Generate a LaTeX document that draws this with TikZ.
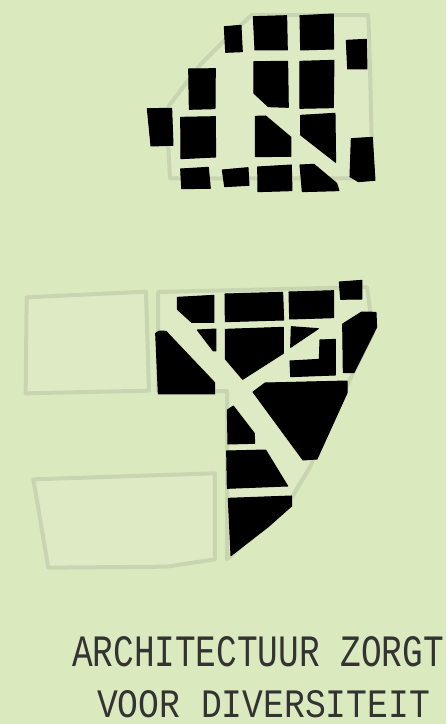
\documentclass[tikz,border=0pt]{standalone}
\usepackage{fontspec}
\setmonofont{Liberation Mono}
\definecolor{bgc}{HTML}{DBE9BF}
\definecolor{plotc}{HTML}{DEEAC4}
\definecolor{edgec}{HTML}{C8D5B0}
\definecolor{inkc}{HTML}{333333}
\tikzset{
  blk/.style={fill=black,draw=black,line width=1pt,line join=round},
  plotline/.style={fill=plotc,draw=edgec,line width=4pt,line join=round},
  hand/.style={inner sep=0pt,outer sep=0pt,anchor=west,text=inkc}
}
\begin{document}
\begin{tikzpicture}[x=1pt,y=-1pt]
\useasboundingbox (0,0) rectangle (446,724);
\clip (0,0) rectangle (446,724);
\fill[bgc] (0,0) rectangle (446,724);
% top plan
\begin{scope}[shift={(130,0)},x=0.3333pt,y=-0.3333pt]
\draw[plotline] (365,45)--(715,45)--(720,200)--(725,420)--(725,535)--(120,535)--(115,440)--(115,320)--(210,195)--(285,120)--cycle;
\draw[blk] (283,80)--(333,76)--(337,155)--(287,157)--cycle;
\draw[blk] (370,50)--(470,47)--(472,150)--(375,150)--cycle;
\draw[blk] (510,47)--(610,42)--(611,147)--(512,150)--cycle;
\draw[blk] (649,121)--(709,118)--(711,207)--(653,207)--cycle;
\draw[blk] (176,207)--(256,206)--(255,326)--(178,328)--cycle;
\draw[blk] (372,185)--(473,184)--(475,322)--(415,320)--(372,280)--cycle;
\draw[blk] (510,184)--(612,181)--(610,323)--(510,325)--cycle;
\draw[blk] (52,326)--(125,325)--(129,436)--(63,438)--cycle;
\draw[blk] (152,352)--(256,350)--(257,471)--(153,476)--cycle;
\draw[blk] (376,349)--(407,348)--(483,412)--(483,469)--(376,470)--cycle;
\draw[blk] (512,346)--(615,340)--(617,487)--(512,405)--cycle;
\draw[blk] (664,416)--(727,412)--(735,541)--(685,545)--(660,530)--cycle;
\draw[blk] (152,507)--(235,502)--(241,565)--(155,566)--cycle;
\draw[blk] (277,510)--(354,503)--(357,556)--(284,560)--cycle;
\draw[blk] (383,501)--(484,495)--(486,572)--(384,575)--cycle;
\draw[blk] (510,495)--(552,493)--(620,550)--(627,572)--(517,575)--cycle;
\end{scope}
% side plots
\begin{scope}[shift={(10,280)},x=0.3333pt,y=-0.3333pt]
\draw[plotline] (50,52)--(408,35)--(417,332)--(47,340)--cycle;
\end{scope}
\begin{scope}[shift={(20,400)},x=0.3333pt,y=-0.3333pt]
\draw[plotline] (40,238)--(585,220)--(585,478)--(440,500)--(85,503)--cycle;
\end{scope}
% lower plan outline
\draw[plotline] (158,292)--(367,287)--(373,333)--(353,373)--(310,467)--(292,497)--(231,556)--(227,559)--(227,391)--(215,391)--(158,391)--cycle;
% lower plan blocks
\begin{scope}[shift={(140,270)},x=0.3333pt,y=-0.3333pt]
\draw[blk] (112,82)--(222,76)--(222,157)--(155,157)--(112,118)--cycle;
\draw[blk] (255,72)--(428,67)--(431,150)--(256,155)--cycle;
\draw[blk] (447,66)--(581,62)--(581,143)--(449,147)--cycle;
\draw[blk] (598,36)--(666,31)--(666,87)--(602,88)--cycle;
\draw[blk] (172,180)--(228,177)--(228,243)--(220,243)--cycle;
\draw[blk] (256,178)--(430,172)--(430,250)--(308,328)--(256,267)--cycle;
\draw[blk] (454,170)--(535,176)--(452,232)--cycle;
\draw[blk] (540,210)--(586,208)--(586,315)--(452,320)--(450,273)--(538,268)--cycle;
\draw[blk] (608,162)--(665,126)--(708,127)--(710,172)--(642,308)--(610,308)--cycle;
\draw[blk] (47,190)--(58,183)--(78,184)--(224,338)--(224,372)--(55,372)--cycle;
\end{scope}
\draw[blk] (253,392)--(265,383)--(347,381)--(347,393)--(317,459)--(303,460)--cycle;
\begin{scope}[shift={(20,400)},x=0.3333pt,y=-0.3333pt]
\draw[blk] (622,30)--(640,18)--(703,100)--(704,130)--(624,132)--cycle;
\draw[blk] (620,153)--(737,150)--(803,258)--(622,265)--cycle;
\draw[blk] (625,295)--(815,288)--(815,318)--(745,380)--(633,467)--cycle;
\end{scope}
% caption
\node[hand] (line1) at (72,652) {\resizebox{372pt}{30pt}{\ttfamily ARCHITECTUUR ZORGT}};
\node[hand] (line2) at (97,704) {\resizebox{333pt}{27pt}{\ttfamily VOOR DIVERSITEIT}};
\end{tikzpicture}
\end{document}
